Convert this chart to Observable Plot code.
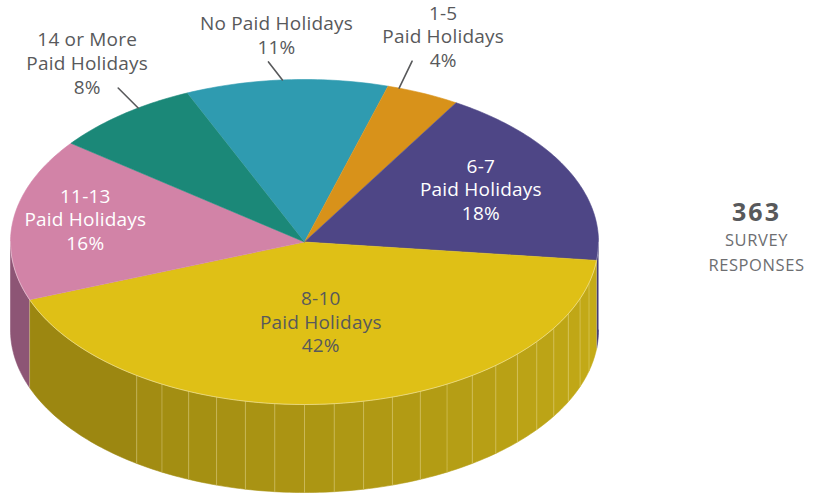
<!DOCTYPE html>
<html><head><meta charset="utf-8">
<script src="https://cdn.jsdelivr.net/npm/d3@7"></script>
<script src="https://cdn.jsdelivr.net/npm/@observablehq/plot@0.6"></script>
<style>
body{margin:0;background:#fff;}
#chart svg{display:block;}
#chart text{letter-spacing:0.2px;}
</style></head><body><div id="chart"></div>
<script>
// ---- data ----
const categories = ["No Paid Holidays","1-5 Paid Holidays","6-7 Paid Holidays","8-10 Paid Holidays","11-13 Paid Holidays","14 or More Paid Holidays"];
const labelTexts = ["No Paid Holidays","1-5\nPaid Holidays","6-7\nPaid Holidays","8-10\nPaid Holidays","11-13\nPaid Holidays","14 or More\nPaid Holidays"];
const values = [11, 4, 18, 42, 16, 8];
const totalResponses = 363;
const summaryLines = ["SURVEY", "RESPONSES"];

// ---- styles ----
const topColors  = ["#2f9bb0","#d8921a","#4e4686","#dfc016","#d283a7","#1b8878"];
const sideDark   = ["#237485","#a86f12","#3a336e","#968210","#8d5575","#146658"];
const sideLight  = ["#2a8596","#b87c14","#3e3773","#c4ab17","#975c7c","#176e60"];
const labelColors= ["#58595b","#58595b","#ffffff","#58595b","#ffffff","#58595b"];
const textFont = "'Open Sans', sans-serif";
// label layout: inside labels at radial fraction r (+pixel nudge); outside labels with leader lines
const labelLayout = [
  {outside:true, da:-0.8, leader:[-14,-18], text:[8,-8]},
  {outside:true, da:-5,   leader:[13,-27],  text:[31,6]},
  {r:0.68, nudge:[-3,-4.5]},
  {r:0.5,  nudge:[-2,-1.7]},
  {r:0.75, nudge:[-1,-5.5]},
  {outside:true, da:3.6,  leader:[-20,-20], text:[-31,6]}
];

// ---- geometry (pie drawn in unit space; scales map it onto the page) ----
const CX = 304, CY = 241.5, RX = 294, RY = 162.5, DEPTH = 88;
const D = DEPTH / RY;
const startDeg = -23.5;
const sum = d3.sum(values);
const rad = d => d * Math.PI / 180;
const ux = t => Math.sin(rad(t)), uy = t => Math.cos(rad(t));
let acc = startDeg;
const slices = values.map((v, i) => { const a0 = acc; acc += v / sum * 360; return {i, a0, a1: acc, mid: (a0 + acc) / 2}; });

// top faces
const topPts = [];
slices.forEach(s => {
  topPts.push({id: "t" + s.i, x: 0, y: 0, color: topColors[s.i]});
  const n = Math.ceil(s.a1 - s.a0);
  for (let j = 0; j <= n; j++) {
    const t = s.a0 + (s.a1 - s.a0) * j / n;
    topPts.push({id: "t" + s.i, x: ux(t), y: uy(t), color: topColors[s.i]});
  }
});

// side facets (front half only, 90°..270°)
const bounds = new Set([90, 270]);
slices.forEach(s => { [s.a0, s.a1].forEach(a => { const b = ((a % 360) + 360) % 360; if (b > 90 && b < 270) bounds.add(b); }); });
for (let k = -14; k <= 7; k++) { const b = 180 + 5.8 * k; if (b > 100 && b < 218) bounds.add(b); }
const B = Array.from(bounds).sort((a, b) => a - b);
const sidePts = [], seamPts = [];
function sliceAt(t) { return slices.find(s => { const tt = t < s.a0 ? t + 360 : t; return tt >= s.a0 && tt < s.a1; }); }
for (let k = 0; k < B.length - 1; k++) {
  const t0 = B[k], t1 = B[k + 1], tm = (t0 + t1) / 2;
  const s = sliceAt(tm);
  const u = Math.max(0, Math.min(1, (250 - tm) / 150));
  const color = d3.interpolateRgb(sideDark[s.i], sideLight[s.i])(u);
  const id = "s" + k;
  const n = Math.max(2, Math.ceil(t1 - t0));
  for (let j = 0; j <= n; j++) { const t = t0 + (t1 - t0) * j / n; sidePts.push({id, x: ux(t), y: uy(t), color}); }
  for (let j = n; j >= 0; j--) { const t = t0 + (t1 - t0) * j / n; sidePts.push({id, x: ux(t), y: uy(t) - D, color}); }
  if (k > 0) { seamPts.push({id: "m" + k, x: ux(t0), y: uy(t0)}, {id: "m" + k, x: ux(t0), y: uy(t0) - D}); }
}
const rimPts = d3.range(90, 270.01, 1).map(t => ({x: ux(t), y: uy(t)}));

// labels
const inside = [], outside = [], leaders = [];
slices.forEach(s => {
  const L = labelLayout[s.i];
  if (L.outside) {
    const a = s.mid + L.da;
    const x0 = ux(a), y0 = uy(a);
    const x1 = x0 + L.leader[0] / RX, y1 = y0 - L.leader[1] / RY;
    leaders.push({id: s.i, x: x0, y: y0}, {id: s.i, x: x1, y: y1});
    outside.push({x: x1 + L.text[0] / RX, y: y1 - L.text[1] / RY, text: labelTexts[s.i] + "\n" + values[s.i] + "%", color: labelColors[s.i]});
  } else {
    inside.push({x: L.r * ux(s.mid) + L.nudge[0] / RX, y: L.r * uy(s.mid) - L.nudge[1] / RY, text: labelTexts[s.i] + "\n" + values[s.i] + "%", color: labelColors[s.i]});
  }
});

const chart = Plot.plot({
  width: 816, height: 494, margin: 0,
  x: {domain: [-1, 1], range: [CX - RX, CX + RX], axis: null},
  y: {domain: [1, -1], range: [CY - RY, CY + RY], axis: null},
  color: {type: "identity"},
  style: {background: "#fff", overflow: "visible"},
  marks: [
    Plot.line(sidePts, {x: "x", y: "y", z: "id", fill: "color", stroke: "color", strokeWidth: 0.6, curve: "linear"}),
    Plot.line(seamPts, {x: "x", y: "y", z: "id", stroke: "#f1e6a6", strokeOpacity: 0.4, strokeWidth: 0.9, curve: "linear"}),
    Plot.line(topPts, {x: "x", y: "y", z: "id", fill: "color", stroke: "color", strokeWidth: 0.6, curve: "linear"}),
    Plot.line(rimPts, {x: "x", y: "y", stroke: "#ffffff", strokeOpacity: 0.4, strokeWidth: 1, curve: "linear"}),
    Plot.line(leaders, {x: "x", y: "y", z: "id", stroke: "#58595b", strokeWidth: 1.6, curve: "linear"}),
    Plot.text(inside, {x: "x", y: "y", text: "text", fill: "color", fontSize: 19, fontWeight: 500, lineHeight: 1.25, lineAnchor: "middle", textAnchor: "middle", fontFamily: textFont}),
    Plot.text(outside, {x: "x", y: "y", text: "text", fill: "color", fontSize: 19, fontWeight: 500, lineHeight: 1.25, lineAnchor: "bottom", textAnchor: "middle", fontFamily: textFont}),
    Plot.text([String(totalResponses)], {text: d => d, frameAnchor: "right", dx: -60, dy: -27, lineAnchor: "bottom", textAnchor: "middle", fontSize: 25, fontWeight: 700, fill: "#58595b", fontFamily: textFont}),
    Plot.text([summaryLines.join("\n")], {text: d => d, frameAnchor: "right", dx: -60, dy: 23, lineAnchor: "bottom", lineHeight: 1.5, textAnchor: "middle", fontSize: 16.5, fill: "#6d6e71", fontFamily: textFont})
  ]
});
d3.select(chart).selectAll("text").filter(function(){ return this.textContent === String(totalResponses); }).style("letter-spacing", "2px");
d3.select(chart).selectAll("text").filter(function(){ return this.textContent.startsWith("SURVEY"); }).style("letter-spacing", "0.6px");
document.getElementById("chart").append(chart);
</script></body></html>
